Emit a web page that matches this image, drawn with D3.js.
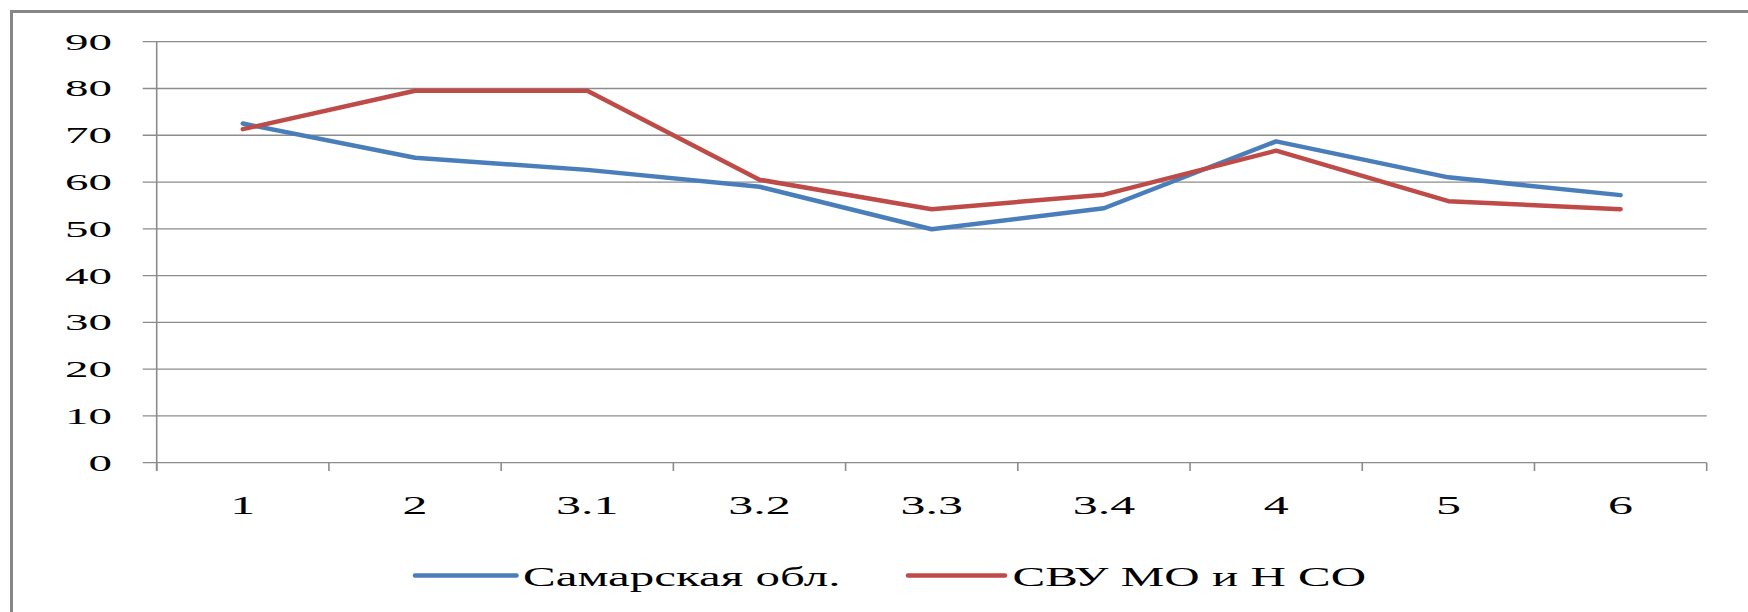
<!DOCTYPE html>
<html>
<head>
<meta charset="utf-8">
<script src="https://cdn.jsdelivr.net/npm/d3@7"></script>
<style>
  html, body { margin: 0; padding: 0; background: #fff; }
  svg { display: block; }
  text { font-family: "Liberation Serif", "Times New Roman", serif; fill: #000; }
</style>
</head>
<body>
<svg id="chart" width="1748" height="612"></svg>
<script>
// ---- data ----
const categories = ["1", "2", "3.1", "3.2", "3.3", "3.4", "4", "5", "6"];
const samara = [72.5, 65.2, 62.6, 59.0, 49.9, 54.4, 68.7, 61.0, 57.2];
const svu = [71.3, 79.5, 79.5, 60.5, 54.2, 57.3, 66.7, 55.9, 54.2];
const yTicks = [0, 10, 20, 30, 40, 50, 60, 70, 80, 90];
const seriesNames = ["Самарская обл.", "СВУ МО и Н СО"];
const seriesColors = ["#4A7EBB", "#BE4B48"];

// ---- layout ----
const svg = d3.select("#chart");
const plotLeft = 156.7, plotRight = 1706.7, plotTop = 41.7, plotBottom = 462.7;
const gridColor = "#8c8c8c";
const textStretch = 2.0;

// outer frame (only left & top visible in the reference)
svg.append("rect")
  .attr("x", 11.5).attr("y", 11.5)
  .attr("width", 1900).attr("height", 800)
  .attr("fill", "none").attr("stroke", "#878787").attr("stroke-width", 3);

const x = d3.scaleBand().domain(categories).range([plotLeft, plotRight]).paddingInner(0).paddingOuter(0);
const y = d3.scaleLinear().domain([0, 90]).range([plotBottom, plotTop]);

// gridlines + y ticks
svg.append("g").selectAll("line").data(yTicks).join("line")
  .attr("x1", plotLeft - 14).attr("x2", plotRight)
  .attr("y1", d => y(d)).attr("y2", d => y(d))
  .attr("stroke", gridColor).attr("stroke-width", 1.3);

// y axis line
svg.append("line")
  .attr("x1", plotLeft).attr("x2", plotLeft)
  .attr("y1", y(90)).attr("y2", plotBottom + 8.3)
  .attr("stroke", gridColor).attr("stroke-width", 1.6);

// x ticks at category boundaries
const boundaries = categories.map(c => x(c)).concat([x(categories[categories.length - 1]) + x.step()]);
svg.append("g").selectAll("line").data(boundaries).join("line")
  .attr("x1", d => d).attr("x2", d => d)
  .attr("y1", plotBottom).attr("y2", plotBottom + 8.3)
  .attr("stroke", gridColor).attr("stroke-width", 1.6);

// y labels
svg.append("g").selectAll("g").data(yTicks).join("g")
  .attr("transform", d => `translate(112,${y(d)}) scale(${textStretch},1)`)
  .append("text")
  .attr("text-anchor", "end")
  .attr("dy", "0.34em")
  .attr("font-size", 23.5)
  .text(d => d);

// x labels
svg.append("g").selectAll("g").data(categories).join("g")
  .attr("transform", d => `translate(${x(d) + x.step() / 2},513.5) scale(${textStretch},1)`)
  .append("text")
  .attr("text-anchor", "middle")
  .attr("font-size", 25)
  .text(d => d);

// lines
const line = d3.line()
  .x((d, i) => x(categories[i]) + x.step() / 2)
  .y(d => y(d));

[samara, svu].forEach((vals, k) => {
  svg.append("path")
    .datum(vals)
    .attr("d", line)
    .attr("fill", "none")
    .attr("stroke", seriesColors[k])
    .attr("stroke-width", 4.5)
    .attr("stroke-linejoin", "round")
    .attr("stroke-linecap", "round");
});

// legend
const legendItems = [
  { name: seriesNames[0], color: seriesColors[0], x0: 415, x1: 516.5, tx: 523 },
  { name: seriesNames[1], color: seriesColors[1], x0: 908, x1: 1005, tx: 1012.5 }
];
const legendY = 575.5;
const lg = svg.append("g");
legendItems.forEach(it => {
  lg.append("line")
    .attr("x1", it.x0).attr("x2", it.x1)
    .attr("y1", legendY).attr("y2", legendY)
    .attr("stroke", it.color).attr("stroke-width", 4.5)
    .attr("stroke-linecap", "round");
  lg.append("g")
    .attr("transform", `translate(${it.tx},${legendY + 10.5}) scale(1.75,1)`)
    .append("text")
    .attr("font-size", 28)
    .text(it.name);
});
</script>
</body>
</html>
